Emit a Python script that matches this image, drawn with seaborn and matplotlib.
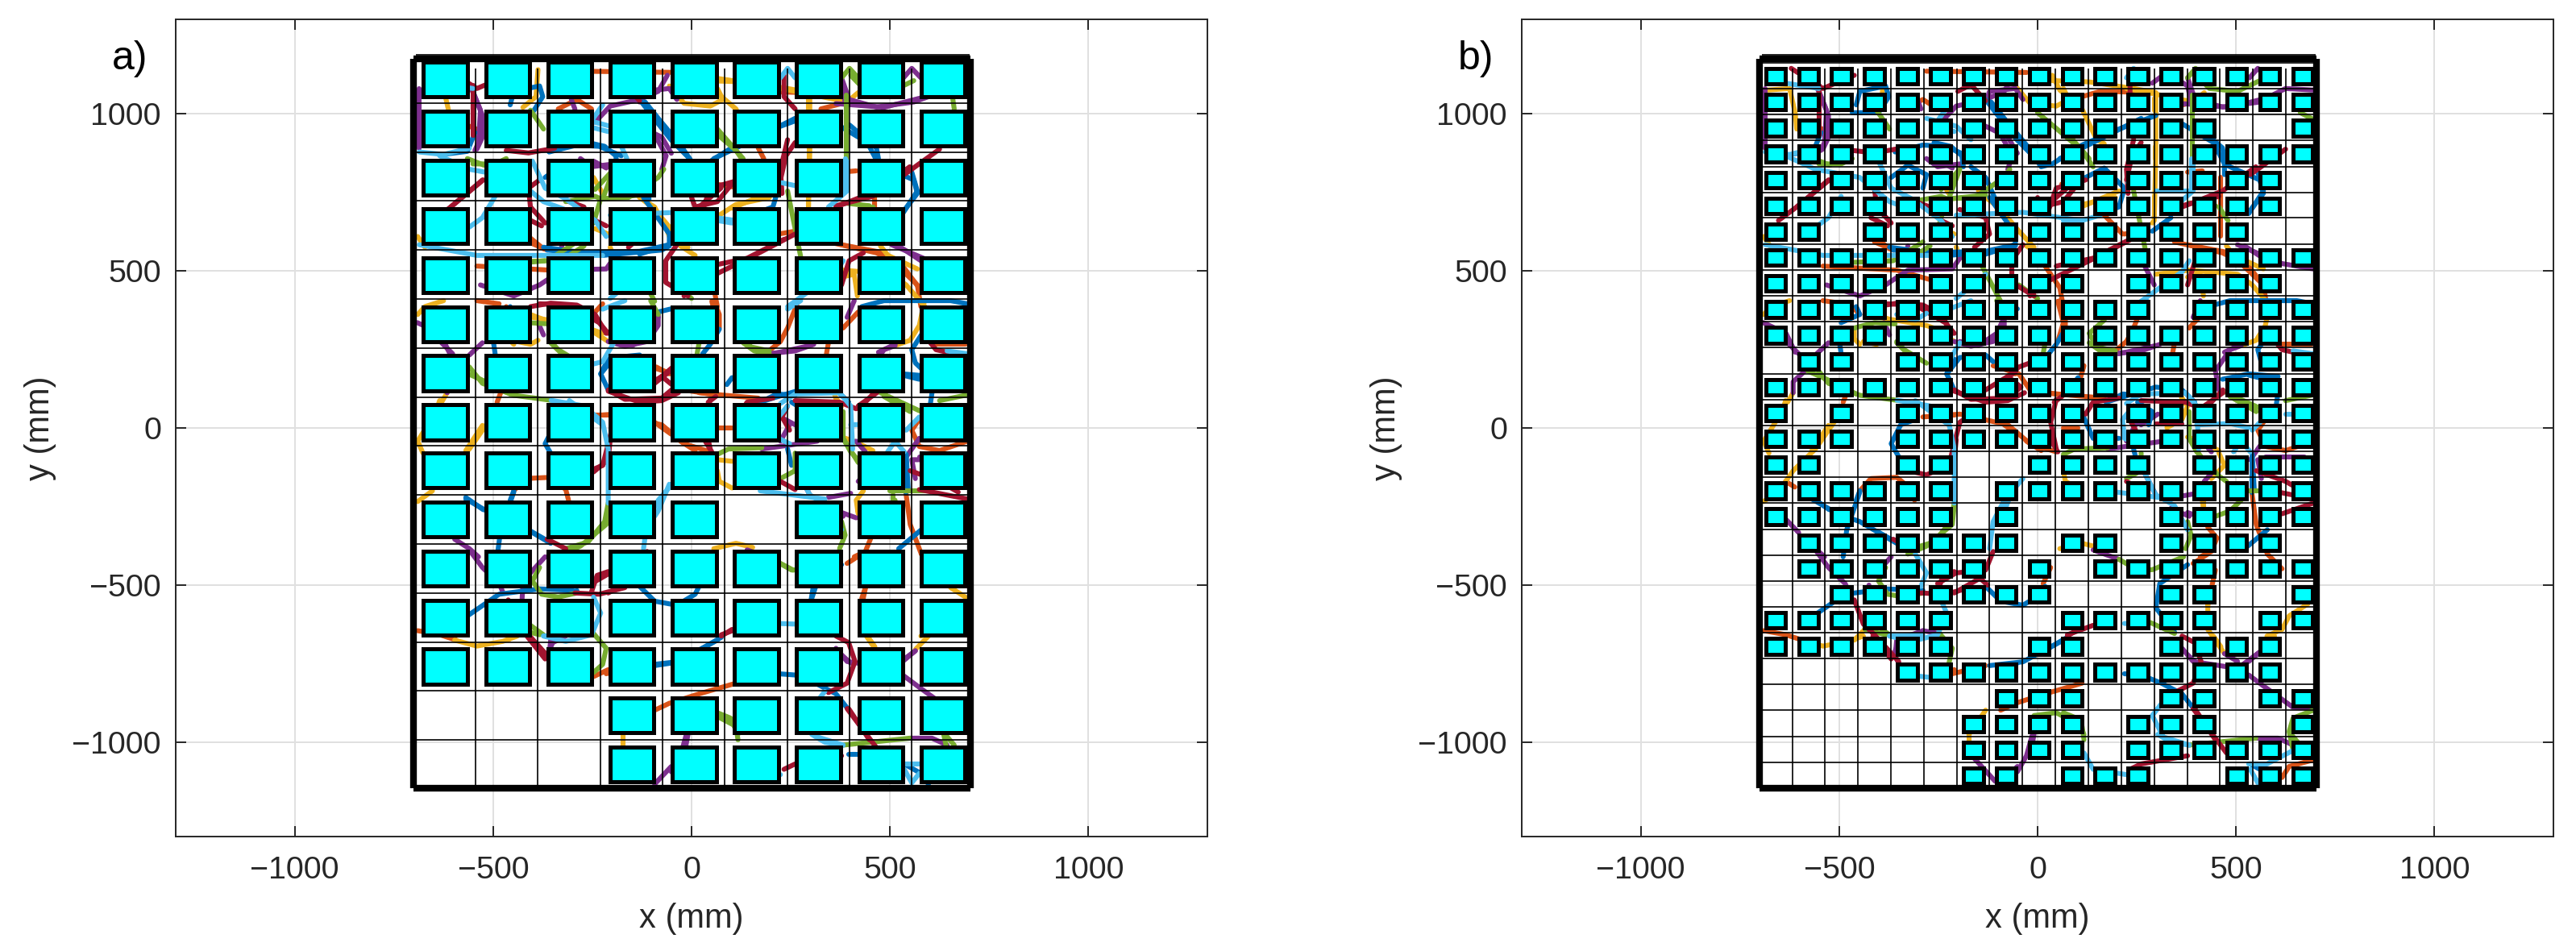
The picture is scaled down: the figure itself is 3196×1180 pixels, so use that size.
import matplotlib
matplotlib.use("Agg")
import matplotlib.pyplot as plt
from matplotlib.patches import Rectangle
import pandas as pd
import seaborn as sns

WIRE_PALETTE = {"B": "#0072BD", "O": "#D95319", "Y": "#EDB120", "P": "#7E2F8E",
                "G": "#77AC30", "L": "#4DBEEE", "R": "#A2142F"}

# wire stretches: colour, then x,y pairs in mm
WIRES = [
("O",-280,1135,-28,1131),("Y",-56,1088,-19,1033,47,1024,79,1045,65,1080),("Y",65,1112,104,1105),
("P",-61,1122,-84,1071,-131,1045,-205,1024,-243,973),("P",-93,934,-64,866,-75,823),
("B",-131,1045,-84,968,-52,917,-5,857),("B",56,857,121,896,261,985),("G",65,951,130,857),("O",168,891,182,857),
("R",233,1122,233,1054,261,1015),("L",224,1114,242,1144,261,1114),("G",378,1114,398,1144,420,1114),("P",534,1114,555,1144,578,1114),
("P",378,1114,397,1045,466,1021,560,1037,597,1054),("G",389,1058,389,849),("Y",224,1080,298,1062,392,1037,420,1067),
("Y",294,1050,294,1011),("O",326,1015,378,1032),("G",658,1050,662,1015),("B",398,964,466,891,471,857),("Y",296,896,296,857),
("R",261,908,238,866,224,789),("R",625,887,536,806),("O",378,814,415,818),("B",555,814,569,754,532,682),("L",392,848,392,754,345,703),
("R",364,707,457,737),("O",462,737,462,703),("G",382,716,448,707),("Y",294,737,294,703),("L",228,780,261,771),("G",242,754,275,545),
("O",219,617,261,626),("R",261,617,158,549,19,463,-19,420),("R",74,763,19,703),("R",0,733,9,703,65,720,98,771),("O",61,776,103,767),
("Y",65,673,112,711,196,733),("L",65,660,102,652),("Y",-131,733,-93,703,-61,626,-56,609),("Y",-28,579,9,549),
("B",-121,733,-56,617,-56,583,-131,553),("R",-37,583,-65,532,-65,463,-9,420),("O",378,583,485,557,569,455,578,386),
("Y",476,579,495,549,569,506),("P",522,579,578,532),("R",433,557,397,532,378,455),("Y",378,480,410,489,418,420),
("L",-686,583,-541,549,-373,549,-224,549),("B",-373,575,-224,549,-75,566,-56,579),("O",-411,609,-373,570),("Y",-690,609,-672,575),
("G",-411,527,-369,532),("G",-308,549,-271,579),("P",-327,579,-331,545),("R",-383,789,-411,763,-406,703,-369,652),
("L",-401,849,-369,763,-317,729,-243,660,-215,609),("G",-406,1011,-373,951),("G",-317,720,-243,737,-229,729,-159,733,-84,797,-70,823),
("G",-229,729,-247,652),("R",-308,720,-271,703),("R",-243,660,-215,643),("Y",-247,797,-224,746),("Y",-243,634,-210,617),
("P",-247,849,-215,827),("B",-359,878,-289,900,-233,896,-177,866),("L",-252,977,-224,1028),("L",-247,955,-210,943),("L",-177,896,-163,857),
("O",-336,1015,-289,1045,-252,1015),("P",-303,1045,-294,1015),("Y",-425,1020,-392,1054,-387,1140),("O",-560,960,-527,943),
("P",-551,1071,-527,994,-527,925,-541,887),("G",-565,857,-523,836),("R",-607,703,-525,789),("L",-495,737,-527,669,-560,639),
("P",-686,1080,-686,890),("R",-551,1090,-551,930),("L",-686,878,-625,870,-560,890),("B",-546,940,-565,880,-615,872),
("R",-467,883,-411,875,-345,890),

("R",-406,386,-355,397,-289,391,-243,361,-215,301),("Y",-690,361,-672,386,-625,405),("O",-541,405,-485,395),("Y",-406,361,-369,343),
("P",-387,335,-373,296),("G",-355,271,-327,236),("Y",-439,275,-406,266,-387,279),("O",-243,369,-224,395),("L",-224,378,-168,405),
("Y",-247,305,-210,275),("P",-210,275,-168,260,-112,275,-84,326,-84,361),("G",-103,405,-84,361),("B",-84,369,-51,379),
("O",56,405,70,361,70,318),("B",70,314,47,266,28,236),("G",19,271,14,236),("L",242,378,275,405),("O",266,395,242,318,224,275,191,241),
("G",130,271,158,245,196,236),("P",191,236,261,245,308,266),("O",345,271,340,236),("O",420,369,382,318),("P",410,405,392,352),
("B",429,386,485,405,653,405,695,395),("Y",587,405,574,326,551,279,513,262),("P",513,266,471,241),("B",579,296,555,249,564,207,579,189),
("R",602,271,616,249,644,241),("O",616,266,690,266),("L",644,245,695,236),("L",-196,271,-224,211,-252,202),("B",-210,219,-229,172,-210,121),
("R",-210,117,-131,82,-75,87,-33,112),("O",-89,194,-56,172),("R",-93,142,-54,181),
("G",-560,194,-527,142,-448,104,-354,88),("L",-354,88,-271,70,-224,18,-210,-67,-210,-239),("P",-630,271,-602,236),("P",-527,271,-560,232),
("B",-499,271,-495,236),("Y",-616,112,-630,82),("O",-481,112,-490,82),("O",-252,40,-210,40),("O",-93,18,-51,-20),("O",65,1,102,1),
("O",-28,-42,9,-72),("R",32,-37,51,-76),("O",19,112,84,104,168,95),("R",42,82,61,100),("B",89,138,102,160),
("B",173,82,215,108,261,104),("L",224,78,261,108,373,112,401,70,406,-67),("R",261,87,373,82,415,61),("R",242,70,228,35,247,-7),
("Y",359,112,368,78),("R",420,70,467,112),("G",476,112,579,52,606,44),("G",625,87,690,104),("B",532,168,574,155),("B",606,112,602,78),
("G",382,52,382,-33,420,-110),("Y",378,-29,410,-42,457,-72),("P",415,-42,438,-76),("L",494,-76,513,-42,536,-76),("P",536,-101,574,-33),
("L",541,-7,574,35),("O",574,27,555,-7,574,-59,625,-72,695,-42),("P",574,-101,555,-101,564,-161),("O",539,-196,551,-307,579,-401),
("B",541,-84,546,-196),("B",579,-324,522,-384),("R",574,-196,695,-226),("G",499,-200,597,-200),("G",508,-213,508,-230),
("Y",433,-200,415,-230,420,-273),("P",378,-269,415,-286),("L",173,-200,336,-226),("R",224,-170,261,-196),("P",345,-221,401,-208),
("G",224,-161,261,-136,261,-80),("Y",65,-136,70,-170,102,-191),("Y",65,-101,102,-106),("G",65,-84,93,-67,177,-63),("P",177,-67,317,-42),
("B",242,-67,252,-119),("P",224,-42,247,10),("R",-205,-37,-210,-101,-247,-140),("O",-448,-200,-420,-161,-355,-157,-317,-196,-310,-230),
("B",-457,-230,-448,-200),("Y",-690,-234,-653,-200),("B",-569,-221,-525,-260),("Y",-569,-72,-527,8),("P",-597,-354,-560,-384,-537,-410),
("B",-406,-328,-364,-358),("R",-364,-354,-317,-384),("G",-317,-384,-261,-363,-219,-298,-210,-239),("L",-56,-179,-84,-264,-93,-281),
("Y",56,-384,112,-367,154,-380),("G",378,-298,387,-341,373,-384),("O",429,-316,452,-350,438,-393,410,-410),

("P",-560,-388,-527,-444,-485,-495,-476,-521),("P",-369,-410,-406,-461),("P",-425,-500,-427,-542),
("G",-383,-444,-401,-487,-378,-529,-336,-538,-289,-525),("B",-565,-598,-485,-529,-383,-512,-289,-517),
("R",-294,-525,-233,-529,-168,-508),("R",-252,-521,-238,-469,-210,-457),("L",-247,-538,-229,-589,-252,-658,-317,-679,-373,-662),
("G",-406,-628,-369,-662),("G",-247,-654,-215,-701,-224,-752,-247,-778),("P",-317,-662,-350,-683,-359,-709),("R",-415,-662,-369,-735),
("Y",-597,-675,-541,-694,-476,-679,-439,-662),("O",-690,-645,-634,-658,-593,-675),("O",-247,-791,-210,-769),("B",-93,-756,-51,-748),
("B",28,-701,75,-666),("R",75,-662,102,-641),("B",-131,-504,-93,-551,-37,-564,9,-529,19,-504),("L",219,-622,261,-624),
("B",312,-508,303,-542),("O",438,-508,429,-542),("O",392,-431,429,-401),("G",224,-431,256,-452),("Y",653,-508,690,-538),
("Y",443,-662,462,-696),("Y",597,-662,564,-705),("P",564,-709,532,-743),("P",378,-722,401,-748),
("R",364,-662,396,-683,412,-743,392,-812,345,-842),("B",219,-782,261,-786,312,-812,364,-846,396,-897),("R",396,-893,448,-992),
("O",-93,-898,-56,-876,19,-846,112,-812),("G",65,-906,98,-923,117,-975),("Y",-173,-975,-173,-1009),("P",-9,-975,-14,-1009),
("L",303,-975,336,-1000,382,-1009),("G",382,-1009,550,-987),("P",550,-987,606,-987,644,-1009),("G",639,-975,662,-1009),
("R",378,-1043,261,-1069,233,-1086),("B",397,-1039,420,-1039),("B",536,-1069,578,-1099,597,-1133),("L",536,-1086,555,-1129,574,-1099),
("P",-51,-1077,-93,-1133),

("R",-462,-547,-439,-624,-411,-658,-350,-743),("Y",-462,-675,-429,-632),("L",-308,-401,-280,-461,-294,-504),
("P",-289,-645,-355,-675,-359,-726,-350,-748),("P",-289,-645,-247,-654),("L",-373,-662,-289,-658),("G",-434,-641,-383,-658),
("L",-327,-786,-261,-795),("R",-252,-495,-205,-461,-131,-452,-112,-393),("R",-210,-525,-145,-478,-126,-500),
("O",33,-444,14,-495),("P",140,-388,205,-418),("G",205,-418,252,-452,289,-451,368,-410),("B",378,-435,308,-495,298,-572,345,-649),
("G",284,-619,345,-654),("R",75,-658,140,-628),("B",-121,-756,-37,-744,65,-675),("O",-215,-782,-131,-756),
("L",336,-838,289,-915,317,-983,382,-1009),("G",-9,-915,47,-906,112,-949,117,-992),("L",117,-1034,140,-1086,224,-1103),
("P",-159,-1052,-107,-1124),("P",-14,-979,-28,-1043,-51,-1094),("L",532,-1069,578,-1069,644,-1026),("O",616,-1112,634,-1077,695,-1056),
("O",579,-401,616,-448),("O",448,-452,429,-564),("Y",429,-564,429,-641,471,-718),("Y",681,-560,634,-598,616,-641,578,-662),
("P",364,-701,392,-743,504,-765,564,-709),("P",471,-718,504,-743),("P",532,-786,578,-829,644,-889,695,-893),
("G",695,-898,644,-923,634,-966,644,-1026),("R",392,-893,476,-1034),("Y",-131,-898,-173,-975),

("B",-345,-102,-369,-50,-345,10,-308,27),("L",-308,87,-224,10),("R",-224,-119,-196,18,-177,35),("R",-327,-136,-280,-149,-224,-119),
("O",-289,35,-196,44,-75,10,-19,-50,47,-76),("R",-210,121,-168,91,-75,95,-42,130,-75,164,-131,121),("R",-75,164,-47,194,-19,207),
("O",-112,198,-47,172,-19,121,65,104),("B",-229,172,-196,224,-131,232,-112,211),("P",-196,275,-149,262,-103,301,-84,352),
("G",-355,275,-336,249,-280,206),("G",-462,318,-411,335,-359,331),("Y",-462,318,-462,284,-448,266),("B",-495,335,-448,361,-457,386),
("O",-467,386,-448,361),("Y",-401,352,-280,326,-224,301),("L",-355,361,-308,343,-280,365),("R",-383,395,-308,391,-233,335,-210,301),
("P",-691,335,-634,301,-611,241),("P",-616,112,-616,147,-583,185),("G",-579,181,-532,155,-457,108),
("Y",-635,87,-644,52,-663,14,-690,-42,-677,-80),("Y",-513,18,-560,-67,-616,-136,-635,-170),("O",-635,-170,-612,-188),
("B",-448,-204,-481,-324,-490,-410),("B",-569,-226,-504,-273,-448,-298,-355,-367),("P",-635,-290,-602,-333),
("G",-210,-247,-215,-307,-280,-376,-327,-401),("L",-37,-161,-84,-230,-112,-298,-121,-384),("O",51,403,65,335,51,275),
("G",168,343,130,301,149,258,196,245),("P",205,236,298,262),("O",117,198,107,155),
("R",47,91,33,18,47,-67),("B",205,95,298,130,364,121,396,82),("B",173,82,205,95),("R",121,44,140,82,205,95),("B",116,35,140,-33,205,-33),
("L",242,70,214,27,219,-33,247,-50),("B",252,82,289,52,280,10),("P",224,35,261,10,303,44),("R",298,14,364,14),
("Y",364,95,378,70,364,27,326,1),("G",382,-33,401,-76,457,-153,476,-170),("L",401,10,485,14,532,1),("R",429,70,467,121),
("P",457,121,448,181,485,249,513,262),("B",466,155,532,172,606,164),("G",485,100,551,52),("L",625,44,695,44),
("Y",457,-80,471,-119,438,-161),("B",541,-93,541,-204),("P",574,-93,672,-93),("R",551,-136,625,-170,672,-204),("P",438,-144,420,-170),
("L",270,-144,298,-213,345,-247,378,-324),("P",270,-144,298,-213),("P",336,-256,382,-281),("G",438,-286,485,-264,513,-230),
("Y",418,-234,418,-264),("R",616,-273,695,-239),

("Y",37,1122,56,1075,112,1015,149,917,168,904),("Y",37,1105,130,1101,242,1080,298,1067,298,883,294,660,289,652),
("O",112,1054,158,1071,285,1067),("P",289,1097,326,1131,378,1088,387,1037),("G",401,1122,433,1080,504,1071,560,1105),
("P",364,1032,485,1020,578,1050,625,1080,695,1075),("G",662,1003,690,985),
("B",-117,1037,-84,985,-28,900,9,831,37,840,112,900,205,951,298,994),("B",364,968,443,908,471,840,471,806),
("G",0,1003,65,934,112,883,140,831),("B",-168,831,-131,797,-107,729),("Y",-149,754,-93,695,-47,626,-9,575),
("P",-131,960,-75,925,-51,874),("P",-131,1037,-121,1071,-56,1080,-37,1045),("R",-201,1071,-168,1092,-131,1041),
("L",-280,985,-205,960,-168,917),("B",-261,908,-219,896,-191,866,-187,831),
("R",-462,1122,-541,1080,-621,1144),("B",-457,1028,-448,1071,-383,1088,-375,1054,-401,1003,-467,1003),("L",-634,1097,-551,1080),
("Y",-681,1075,-625,1080,-611,1003,-607,951),("P",-555,1080,-532,1011,-537,908,-546,883),
("R",-653,660,-607,703,-527,789),("L",-635,866,-560,823,-448,797,-373,720,-317,694),("G",-551,840,-495,840,-467,857),
("G",-462,527,-364,532,-289,592),("O",-411,592,-364,566),("B",-364,566,-289,557,-131,562,-56,583),("Y",-205,575,-196,540),
("P",-196,540,-215,506,-327,502,-383,455,-448,420,-532,455),("O",-541,515,-355,502,-271,472),
("G",-140,515,-93,403),("L",-131,489,-205,412),("R",47,515,140,540,233,600),("O",19,515,56,446,65,386),("G",-47,455,0,412),
("P",270,515,294,455),("Y",298,489,382,502,504,489,541,455,588,386),("L",382,532,364,497,308,446,242,386),
("P",504,583,616,523,695,506),("O",345,592,466,557,532,515,578,438),("B",476,836,560,789,569,746,532,686),
("O",462,797,462,609),("G",457,703,480,660),("R",364,703,466,754,550,831),("L",387,857,387,754,298,754),("B",336,669,289,626),
("R",242,917,224,823,228,746),("O",168,677,214,617),("B",121,797,168,827,219,763,205,703,168,686),("Y",102,699,205,754),
("R",121,789,47,763,28,694),("L",-205,677,-37,686,112,660,158,677),("R",-196,695,-131,669,-121,617,-159,575),
("G",-243,759,-196,823,-224,729,-131,741),("R",-420,669,-378,643),("P",-280,857,-252,831,-196,840),
("B",-369,797,-327,836,-280,806,-289,763),
]

# cell centres (mm)
A_COLS = [-620, -463, -307, -150, 7, 163, 320, 477, 634]
A_ROWS = [1109, 953, 797, 642, 486, 330, 174, 18, -135, -291, -447, -603, -759, -914, -1070]
A_EMPTY = {(9, 5), (13, 0), (13, 1), (13, 2), (14, 0), (14, 1), (14, 2)}
B_COLS = [-660, -577, -494, -411, -328, -245, -162, -79, 4, 87, 170, 253, 336, 419, 502, 585, 668]
B_ROWS = [1119, 1037, 954, 872, 789, 707, 624, 542, 460, 377, 295, 212, 130, 48, -35, -117,
          -200, -282, -365, -447, -530, -612, -695, -777, -860, -942, -1024, -1107]
# empty columns per row of panel b
B_EMPTY = {2: [14, 15], 4: [16], 5: [16], 6: [2, 15, 16], 8: [10, 16], 9: [12], 11: [0, 3], 13: [1, 3], 14: [3],
           15: [2, 3, 6, 7, 12], 16: [6], 17: [6, 8, 9, 10, 11], 18: [0, 8, 11, 16], 19: [0, 7, 9],
           20: [0, 1, 9, 10, 11, 14, 15], 21: [6, 7, 8, 14], 22: [6, 7, 10, 11, 16], 23: [0, 1, 2, 3, 16],
           24: [0, 1, 2, 3, 4, 5, 6, 10, 11, 14], 25: [0, 1, 2, 3, 4, 5, 10, 14, 15],
           26: [0, 1, 2, 3, 4, 5, 10], 27: [0, 1, 2, 3, 4, 5, 8, 12, 13]}
A_SIDE, B_SIDE = 111, 50
A_VLINES = [-544, -387, -230, -73, 84, 241, 398, 555]
A_HLINES = [1187, 1033, 877, 722, 566, 410, 254, 98, -57, -213, -369, -525, -681, -837, -992]
B_VLINES = [-618, -536, -453, -370, -287, -204, -121, -38, 45, 128, 211, 294, 377, 460, 543, 626]
B_HLINES = [1187, 1162, 1080, 997, 915, 832, 750, 668, 585, 503, 420, 338, 256, 173, 91, 8, -74, -157, -239,
            -322, -404, -486, -569, -651, -734, -816, -898, -981, -1064]
TICKS = [-1000, -500, 0, 500, 1000]

rows = []
for i, w in enumerate(WIRES):
    for x, y in zip(w[1::2], w[2::2]):
        rows.append((i, w[0], x, y))
wires = pd.DataFrame(rows, columns=["wire", "colour", "x", "y"])

sns.set_theme(style="whitegrid")
plt.rcParams["font.family"] = ["Liberation Sans", "DejaVu Sans"]
plt.rcParams["axes.unicode_minus"] = True
INK = "#262626"
fig = plt.figure(figsize=(15.98, 5.9), dpi=200, facecolor="white")


def panel(left, tag, cols, rows_, empty, side, vlines, hlines):
    ax = fig.add_axes([left / 3196, 142 / 1180, 1280 / 3196, 1014 / 1180])
    ax.set_facecolor("white")
    ax.set_axisbelow(True)
    ax.grid(True, color="#E0E0E0", lw=0.7)
    sns.lineplot(data=wires, x="x", y="y", hue="colour", units="wire", estimator=None, sort=False,
                 palette=WIRE_PALETTE, lw=2.2, legend=False, ax=ax, zorder=2)
    ax.hlines(hlines, -695, 700, color="black", lw=0.6, zorder=3)
    ax.vlines(vlines, -1146, 1143, color="black", lw=0.6, zorder=3)
    for r, yc in enumerate(rows_):
        for c, xc in enumerate(cols):
            if (r, c) not in empty:
                ax.add_patch(Rectangle((xc - side / 2, yc - side / 2), side, side, fc="#00FFFF",
                                       ec="black", lw=1.8, zorder=4))
    for xs, ys in (([-700, -700], [-1146, 1174]), ([702, 702], [-1146, 1174]),
                   ([-700, 702], [1174, 1174]), ([-700, 702], [-1146, -1146])):
        ax.plot(xs, ys, color="black", lw=3.0, solid_capstyle="butt", zorder=5)
    ax.set_xlim(-1300, 1300)
    ax.set_ylim(-1300, 1300)
    ax.set_xticks(TICKS)
    ax.set_yticks(TICKS)
    ax.tick_params(axis="both", which="both", direction="in", length=4.7, width=0.7, color=INK,
                   top=True, right=True, bottom=True, left=True, labelsize=14.2, labelcolor=INK)
    ax.tick_params(axis="x", pad=8.5)
    ax.tick_params(axis="y", pad=6.5)
    ax.set_xlabel("x (mm)", fontsize=15, color=INK, labelpad=8)
    ax.set_ylabel("y (mm)", fontsize=15, color=INK, labelpad=7)
    for s in ax.spines.values():
        s.set_visible(True)
        s.set_color(INK)
        s.set_linewidth(0.7)
    ax.text(-1461, 1174, tag, fontsize=18, color="black", va="center", ha="left", clip_on=False)
    return ax


panel(218, "a)", A_COLS, A_ROWS, A_EMPTY, A_SIDE, A_VLINES, A_HLINES)
b_empty = {(r, c) for r, cs in B_EMPTY.items() for c in cs}
panel(1888, "b)", B_COLS, B_ROWS, b_empty, B_SIDE, B_VLINES, B_HLINES)
fig.savefig("out.png", dpi=200)
